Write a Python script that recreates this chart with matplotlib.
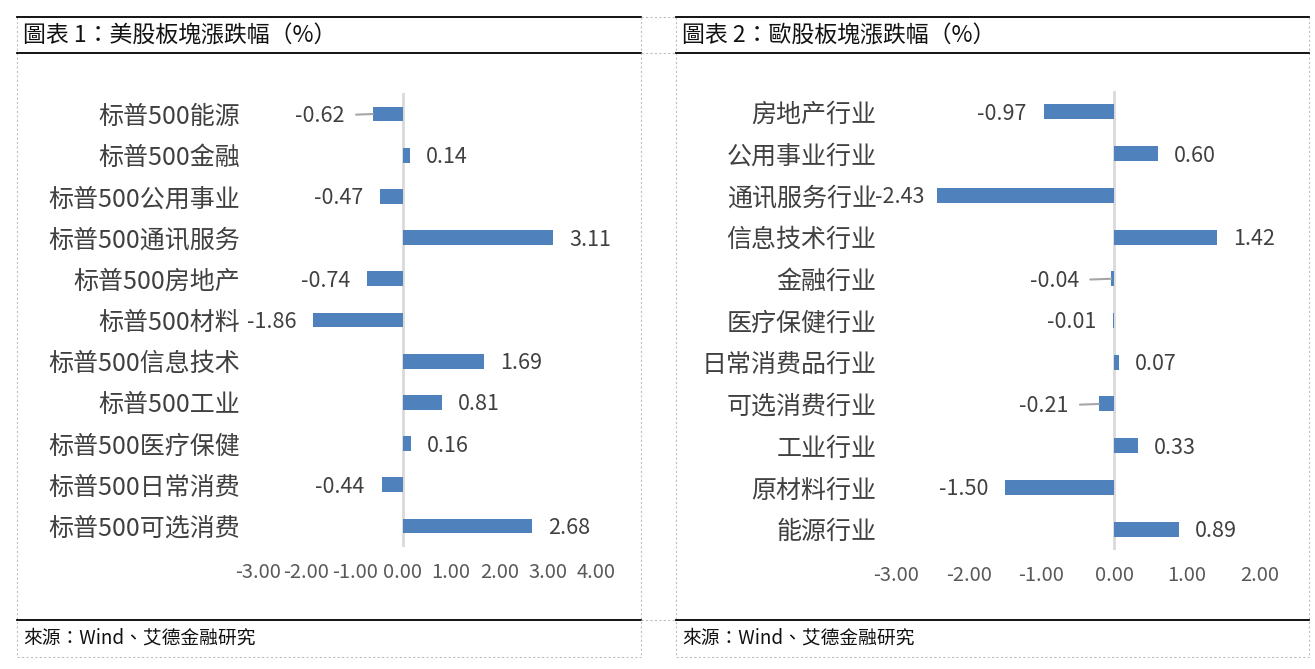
import matplotlib
matplotlib.use('Agg')
import matplotlib.pyplot as plt

plt.rcParams['font.family'] = ['Noto Sans CJK SC', 'DejaVu Sans']

# 图表1 数据
us_sectors = ['标普500能源', '标普500金融', '标普500公用事业', '标普500通讯服务', '标普500房地产',
              '标普500材料', '标普500信息技术', '标普500工业', '标普500医疗保健', '标普500日常消费',
              '标普500可选消费']
us_change = [-0.62, 0.14, -0.47, 3.11, -0.74, -1.86, 1.69, 0.81, 0.16, -0.44, 2.68]
us_ticks = [-3, -2, -1, 0, 1, 2, 3, 4]

# 图表2 数据
eu_sectors = ['房地产行业', '公用事业行业', '通讯服务行业', '信息技术行业', '金融行业', '医疗保健行业',
              '日常消费品行业', '可选消费行业', '工业行业', '原材料行业', '能源行业']
eu_change = [-0.97, 0.60, -2.43, 1.42, -0.04, -0.01, 0.07, -0.21, 0.33, -1.50, 0.89]
eu_ticks = [-3, -2, -1, 0, 1, 2]

W, H = 1315, 669
BAR = '#4f81bd'
fig = plt.figure(figsize=(W / 100, H / 100), dpi=100)

bg = fig.add_axes([0, 0, 1, 1])
bg.set_xlim(0, W)
bg.set_ylim(H, 0)
bg.axis('off')


def px_axes(x0, y0, x1, y1):
    return fig.add_axes([x0 / W, 1 - y1 / H, (x1 - x0) / W, (y1 - y0) / H])


def frame(x0, x1, title):
    dash = dict(color='#bfbfbf', lw=0.8, ls=(0, (2, 2)))
    bg.plot([x0, x0], [17, 657], **dash)
    bg.plot([x1, x1], [17, 657], **dash)
    bg.plot([x0, x1], [657, 657], **dash)
    for y in (17, 53, 620):
        bg.plot([x0, x1], [y, y], color='black', lw=1.3)
    bg.text(x0 + 6, 36, title, fontsize=16.5, va='center', ha='left',
            family=['Noto Sans CJK TC', 'DejaVu Sans'], color='#111111')
    bg.text(x0 + 6, 638, '來源：Wind、艾德金融研究', fontsize=13.5, va='center', ha='left',
            family=['Noto Sans CJK TC', 'DejaVu Sans'], color='#111111')


frame(17, 641, '圖表 1：美股板塊漲跌幅（%）')
frame(676, 1309, '圖表 2：歐股板塊漲跌幅（%）')
for y in (17, 53, 620):
    bg.plot([641, 676], [y, y], color='#bfbfbf', lw=0.8, ls=(0, (2, 2)))


def panel(ax, cats, vals, ticks, pad_cat, leaders, gaps):
    n = len(cats)
    pos = list(range(n))
    ax.barh(pos, vals, height=0.36, color=BAR, zorder=2)
    ax.set_xlim(ticks[0], ticks[-1])
    ax.set_ylim(n - 0.5, -0.5)
    ax.axvline(0, color='#d9d9d9', lw=2, zorder=1)
    for s in ax.spines.values():
        s.set_visible(False)
    ax.set_yticks(pos)
    ax.set_yticklabels(cats, fontsize=18, color='#404040')
    ax.set_xticks(ticks)
    ax.set_xticklabels(['%.2f' % t for t in ticks], fontsize=14.5, color='#595959')
    ax.tick_params(axis='y', length=0, pad=pad_cat)
    ax.tick_params(axis='x', length=0, pad=11)
    for i, v in enumerate(vals):
        if i in leaders:
            off = leaders[i]
            ax.annotate('%.2f' % v, xy=(v, i), xytext=(-off, -2), textcoords='offset pixels',
                        ha='right', va='center', fontsize=15.5, color='#404040',
                        arrowprops=dict(arrowstyle='-', color='#a6a6a6', lw=1.5,
                                        shrinkA=6, shrinkB=0))
        elif v < 0:
            ax.annotate('%.2f' % v, xy=(v, i), xytext=(-gaps.get(i, 17), -2),
                        textcoords='offset pixels',
                        ha='right', va='center', fontsize=15.5, color='#404040')
        else:
            ax.annotate('%.2f' % v, xy=(v, i), xytext=(16, -2), textcoords='offset pixels',
                        ha='left', va='center', fontsize=15.5, color='#404040')


ax1 = px_axes(258, 93.4, 596, 546.6)
panel(ax1, us_sectors, us_change, us_ticks, 13, {0: 28}, {})

ax2 = px_axes(896, 91, 1259.5, 550)
panel(ax2, eu_sectors, eu_change, eu_ticks, 14, {4: 32, 7: 30}, {2: 13})

fig.savefig('out.png', dpi=100)
